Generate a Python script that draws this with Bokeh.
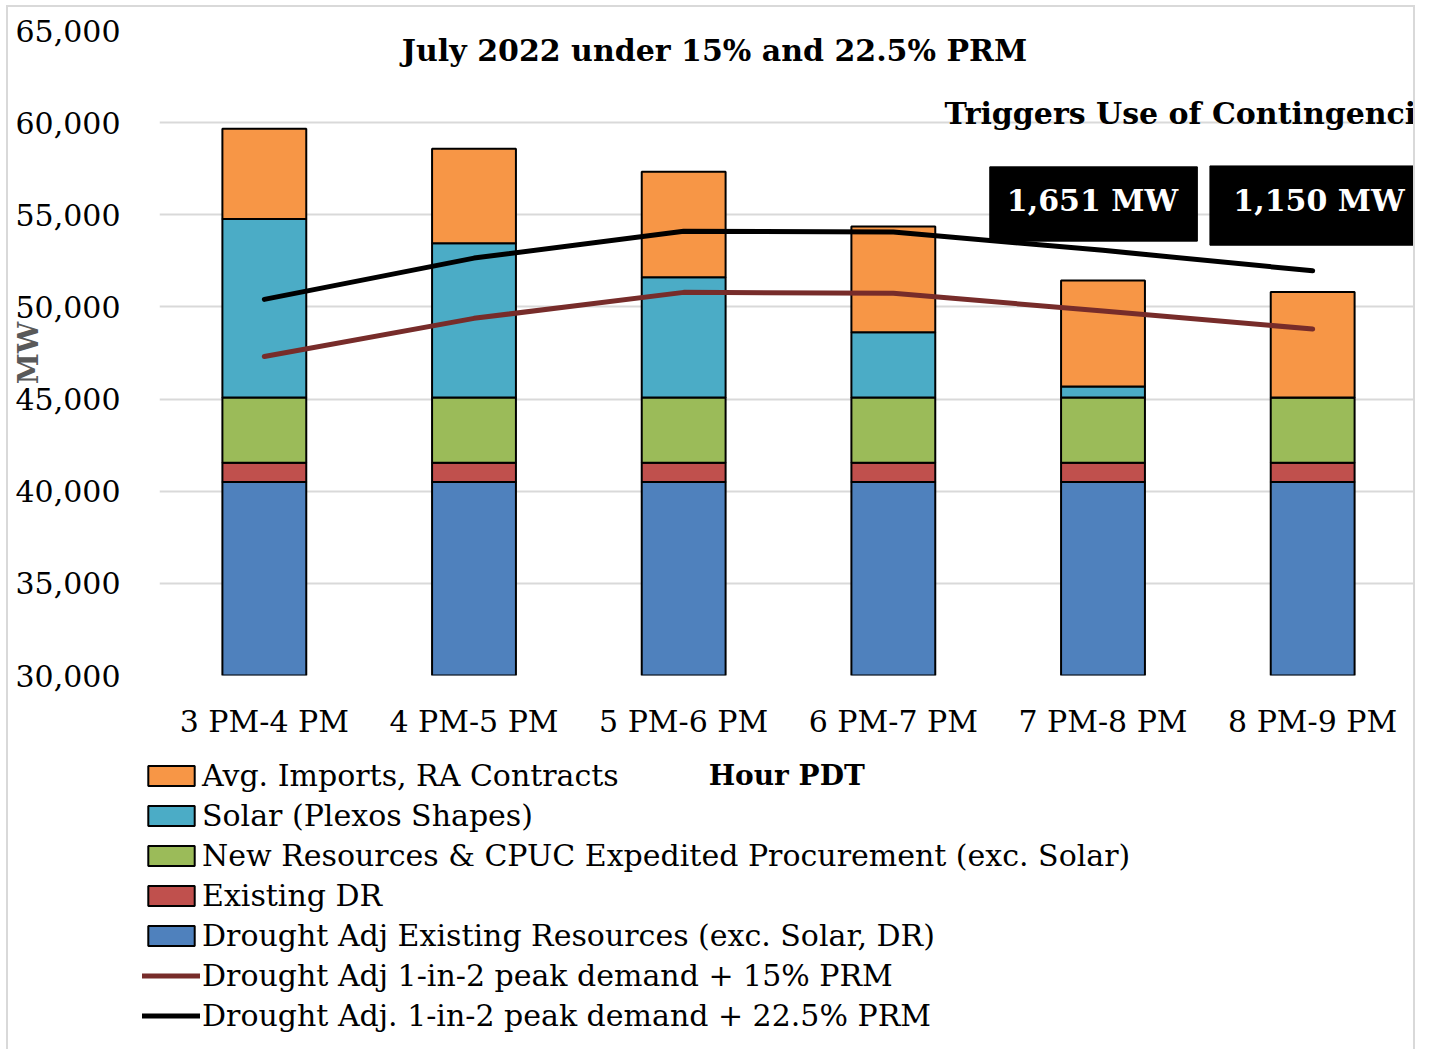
import math
import numpy as np
from bokeh.plotting import figure
from bokeh.models import (Range1d, FactorRange, Legend, LegendItem, Label,
                          NumeralTickFormatter, FixedTicker, ColumnDataSource)
from bokeh.core.properties import value
from bokeh.embed import file_html
from bokeh.resources import INLINE

# ---------------- data ----------------
categories = ["3 PM-4 PM", "4 PM-5 PM", "5 PM-6 PM", "6 PM-7 PM", "7 PM-8 PM", "8 PM-9 PM"]
existing_resources = [40500, 40500, 40500, 40500, 40500, 40500]
existing_dr = [1050, 1050, 1050, 1050, 1050, 1050]
new_resources = [3530, 3530, 3530, 3530, 3530, 3530]
solar = [9690, 8380, 6530, 3540, 600, 0]
imports = [4900, 5120, 5720, 5750, 5760, 5730]
demand_15 = [47310, 49380, 50790, 50740, 49780, 48800]
demand_225 = [50410, 52650, 54110, 54060, 53070, 51960]
y_ticks = [30000, 35000, 40000, 45000, 50000, 55000, 60000, 65000]
shortfalls = ["1,651 MW", "1,150 MW"]

series_names = ["Drought Adj Existing Resources (exc. Solar, DR)",
                "Existing DR",
                "New Resources & CPUC Expedited Procurement (exc. Solar)",
                "Solar (Plexos Shapes)",
                "Avg. Imports, RA Contracts"]
line_names = ["Drought Adj 1-in-2 peak demand + 15% PRM",
              "Drought Adj. 1-in-2 peak demand + 22.5% PRM"]

FONT = "DejaVu Serif"
colors = ["#4F81BD", "#C0504D", "#9BBB59", "#4BACC6", "#F79646"]
line_colors = ["#772C2A", "black"]
BORDER = "2px solid #d9d9d9"

data = dict(cat=categories, existing=existing_resources, dr=existing_dr,
            new=new_resources, solar=solar, imports=imports,
            d15=demand_15, d225=demand_225)

W = 1409      # includes the 2px side borders
CW = 1405     # content width
H1 = 742      # includes the 2px top border
H2 = 302

# ---------------- main chart ----------------
p = figure(x_range=FactorRange(*categories, range_padding=0),
           y_range=Range1d(30000, 65000),
           width=W, height=H1, output_backend="svg", toolbar_location=None,
           min_border_left=147, min_border_right=0, min_border_top=23,
           min_border_bottom=74)
p.outline_line_color = None
p.styles = {"border-left": BORDER, "border-right": BORDER, "border-top": BORDER,
            "margin-left": "6px", "margin-top": "5px"}

stack_keys = ["existing", "dr", "new", "solar", "imports"]
bars = p.vbar_stack(stack_keys, x="cat", width=0.4, source=data,
                    fill_color=colors, line_color="black", line_width=2)

l15 = p.line(x="cat", y="d15", source=data, line_color=line_colors[0], line_width=5,
             line_cap="round", line_join="round")
l225 = p.line(x="cat", y="d225", source=data, line_color=line_colors[1], line_width=5,
              line_cap="round", line_join="round")

p.yaxis.ticker = FixedTicker(ticks=y_ticks)
p.yaxis.formatter = NumeralTickFormatter(format="0,0")
for ax in (p.xaxis[0], p.yaxis[0]):
    ax.axis_line_color = None
    ax.major_tick_line_color = None
    ax.minor_tick_line_color = None
    ax.major_label_text_font = FONT
    ax.major_label_text_font_size = "30px"
    ax.major_label_text_color = "black"
p.yaxis.major_label_standoff = 33
p.xaxis.major_label_standoff = 22
p.yaxis.axis_label = "MW"
p.yaxis.axis_label_text_font = FONT
p.yaxis.axis_label_text_font_style = "bold"
p.yaxis.axis_label_text_font_size = "28px"
p.yaxis.axis_label_text_color = "#595959"
p.yaxis.axis_label_standoff = -32
p.xgrid.grid_line_color = None
p.ygrid.grid_line_color = "#D9D9D9"
p.ygrid.grid_line_width = 2

# shortfall boxes
box_left = [3.96, 5.01]
box_right = [4.95, 6.01]
p.quad(left=box_left, right=box_right, top=[57600, 57650], bottom=[53570, 53350],
       fill_color="black", line_color="black")
p.text(x=[4.45, 5.53], y=[55750, 55750], text=shortfalls, text_color="white",
       text_font=value(FONT), text_font_style="bold", text_font_size="30px",
       text_align="center", text_baseline="middle")

p.add_layout(Label(x=2.647, y=63900, text="July 2022 under 15% and 22.5% PRM",
                   text_font=FONT, text_font_style="bold", text_font_size="30px",
                   text_color="black", text_align="center", text_baseline="middle"))
p.text(x=[3.744], y=[60480], text=["Triggers Use of Contingencies"],
       text_font=value(FONT), text_font_style="bold", text_font_size="30px",
       text_align="left", text_baseline="middle", text_color="black")

# ---------------- legend / axis title strip ----------------
q = figure(x_range=Range1d(0, CW), y_range=Range1d(0, H2), width=W, height=H2,
           output_backend="svg", toolbar_location=None,
           min_border_left=0, min_border_right=0, min_border_top=0, min_border_bottom=0)
q.axis.visible = False
q.grid.visible = False
q.outline_line_color = None
q.styles = {"border-left": BORDER, "border-right": BORDER, "margin-left": "6px"}

q.add_layout(Label(x=776, y=274, text="Hour PDT",
                   text_font=FONT, text_font_style="bold", text_font_size="28px",
                   text_color="black", text_align="center", text_baseline="middle"))

# legend keys only (a single NaN point each, nothing is drawn in the plot area)
keys = ColumnDataSource(dict(x=np.array([np.nan]), top=np.array([np.nan]),
                             y=np.array([np.nan])))
sw = [q.vbar(x="x", top="top", width=1, source=keys, fill_color=c,
             line_color="black", line_width=2) for c in colors]
ln = [q.line(x="x", y="y", source=keys, line_color=c, line_width=5, line_cap="round")
      for c in line_colors]

items = [LegendItem(label=series_names[4], renderers=[sw[4]]),
         LegendItem(label=series_names[3], renderers=[sw[3]]),
         LegendItem(label=series_names[2], renderers=[sw[2]]),
         LegendItem(label=series_names[1], renderers=[sw[1]]),
         LegendItem(label=series_names[0], renderers=[sw[0]]),
         LegendItem(label=line_names[0], renderers=[ln[0]]),
         LegendItem(label=line_names[1], renderers=[ln[1]])]
legend = Legend(items=items, location=(134, 16), orientation="vertical",
                glyph_width=58, glyph_height=25, label_height=20, label_standoff=2,
                padding=0, margin=0, spacing=5, border_line_color=None,
                background_fill_alpha=0, label_text_font=FONT,
                label_text_font_size="30px", label_text_color="black")
q.add_layout(legend, "center")

open("out.html", "w").write(file_html((p, q), INLINE))
